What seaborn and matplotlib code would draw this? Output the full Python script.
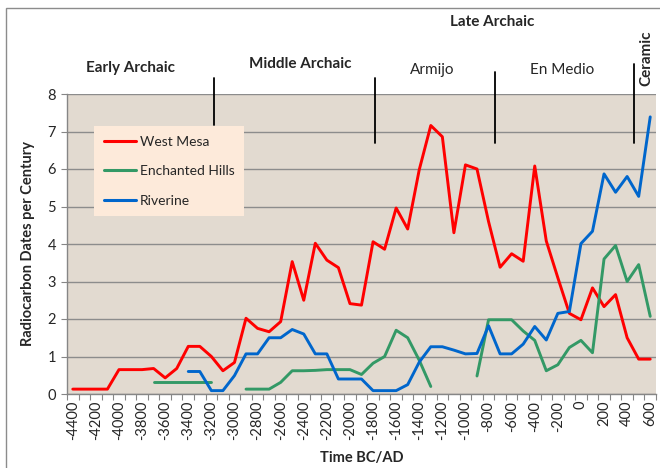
import numpy as np
import pandas as pd
import matplotlib
matplotlib.use('Agg')
import matplotlib.pyplot as plt
from matplotlib.patches import Rectangle
import seaborn as sns

# centuries on the category axis (BC negative)
years = list(range(-4400, 700, 100))

# radiocarbon dates per century (None = no line)
west_mesa = [0.13, 0.13, 0.13, 0.13, 0.65, 0.65, 0.65, 0.68, 0.43, 0.68,
             1.27, 1.27, 1.0, 0.62, 0.84, 2.02, 1.75, 1.66, 1.93, 3.53,
             2.5, 4.02, 3.57, 3.37, 2.41, 2.37, 4.06, 3.86, 4.96, 4.4,
             5.98, 7.16, 6.86, 4.3, 6.11, 6.0, 4.6, 3.38, 3.74, 3.54,
             6.08, 4.08, 3.1, 2.15, 1.98, 2.83, 2.33, 2.65, 1.5, 0.93, 0.93]
enchanted_hills = [None, None, None, None, None, None, None, 0.33, 0.33, 0.33,
                   0.33, 0.33, 0.33, None, None, 0.13, 0.13, 0.13, 0.31, 0.62,
                   0.62, 0.63, 0.65, 0.65, 0.65, 0.52, 0.82, 1.0, 1.7, 1.5,
                   0.9, 0.2, None, None, None, 0.48, 1.98, 1.98, 1.98, 1.68,
                   1.43, 0.62, 0.78, 1.24, 1.43, 1.1, 3.6, 3.96, 3.0, 3.45, 2.07]
riverine = [None, None, None, None, None, None, None, None, None, None,
            0.6, 0.6, 0.09, 0.09, 0.49, 1.07, 1.07, 1.5, 1.5, 1.72,
            1.6, 1.07, 1.07, 0.4, 0.4, 0.4, 0.09, 0.09, 0.09, 0.25,
            0.85, 1.26, 1.26, 1.17, 1.07, 1.08, 1.82, 1.07, 1.07, 1.33,
            1.8, 1.44, 2.15, 2.2, 4.01, 4.34, 5.87, 5.38, 5.8, 5.27, 7.39]

series_names = ['West Mesa', 'Enchanted Hills', 'Riverine']
series_colors = ['#FF0000', '#339966', '#0066CC']

# period boundaries (years) and where the divider lines start/stop (axes fraction)
period_bounds = [-3180, -1780, -740, 460]
period_tops = [1.053, 1.053, 1.073, 1.10]
period_bottoms = [0.897, 0.837, 0.837, 0.837]

# build long table, one "seg" per unbroken run so gaps stay gaps
frames = []
for name, vals in zip(series_names, [west_mesa, enchanted_hills, riverine]):
    s = pd.Series(vals, dtype=float)
    seg = s.isna().cumsum()
    d = pd.DataFrame({'pos': np.arange(len(years)), 'value': s,
                      'series': name, 'seg': name + seg.astype(str)})
    frames.append(d.dropna())
df = pd.concat(frames, ignore_index=True)

sns.set_style('white')
plt.rcParams['font.family'] = ['Lato', 'DejaVu Sans']

fig = plt.figure(figsize=(6.6, 4.68), dpi=100)
ax = fig.add_axes([67 / 660, 1 - 394 / 468, 589 / 660, 300 / 468])
ax.set_facecolor('#E2DAD0')

sns.lineplot(data=df, x='pos', y='value', hue='series', units='seg',
             estimator=None, palette=dict(zip(series_names, series_colors)),
             hue_order=series_names, linewidth=2.1, ax=ax, legend=True)

# axes
ax.set_xlim(-0.5, len(years) - 0.5)
ax.set_ylim(0, 8)
ax.set_yticks(range(0, 9))
ax.yaxis.grid(True, color='#8C8C8C', linewidth=1)
ax.xaxis.grid(False)
ax.set_axisbelow(True)
ax.set_xticks(np.arange(0, len(years), 2))
ax.set_xticklabels([str(y) for y in years[::2]], rotation=90, fontsize=10.5)
ax.set_xticks(np.arange(len(years) + 1) - 0.5, minor=True)
ax.tick_params(axis='x', which='major', length=0, pad=5)
ax.tick_params(axis='x', which='minor', length=4, color='#868686', width=0.8, bottom=True)
ax.tick_params(axis='y', length=4, color='#868686', width=0.8, left=True, labelsize=10.5, pad=4)
for sp in ['top', 'right']:
    ax.spines[sp].set_visible(False)
for sp in ['left', 'bottom']:
    ax.spines[sp].set_color('#868686')
    ax.spines[sp].set_linewidth(1)

ax.set_xlabel('Time BC/AD', fontsize=10.5, fontweight='bold', labelpad=8)
ax.set_ylabel('Radiocarbon Dates per Century', fontsize=10.5, fontweight='bold', labelpad=9)

# legend
handles, labels = ax.get_legend_handles_labels()
for h in handles:
    h.set_linewidth(2.2)
ax.legend(handles, labels, loc='upper left', bbox_to_anchor=(0.046, 0.893),
          borderaxespad=0, frameon=True, facecolor='#FDEADA', edgecolor='none',
          framealpha=1, fancybox=False, fontsize=10, handlelength=2.3,
          handletextpad=0.3, labelspacing=1.25, borderpad=0.7)

# period dividers
trans = ax.get_xaxis_transform()
for yr, top, bot in zip(period_bounds, period_tops, period_bottoms):
    xpos = (yr - years[0]) / 100
    ax.plot([xpos, xpos], [bot, top], transform=trans, color='black',
            linewidth=1.3, clip_on=False)

def fig_text(x, y, s, **kw):
    fig.text(x / 660, 1 - y / 468, s, ha='center', va='center', **kw)

fig_text(131, 68, 'Early Archaic', fontsize=11, fontweight='bold')
fig_text(300, 64, 'Middle Archaic', fontsize=11, fontweight='bold')
fig_text(432, 70, 'Armijo', fontsize=11)
fig_text(562, 70, 'En Medio', fontsize=11)
fig_text(492, 22, 'Late Archaic', fontsize=11, fontweight='bold')
fig_text(646, 58, 'Ceramic', fontsize=11, fontweight='bold', rotation=90)

# chart border like the spreadsheet export
fig.add_artist(Rectangle((6 / 660, -0.1), 1.2, 1.1 - 8 / 468, transform=fig.transFigure,
                         fill=False, edgecolor='#8C8C8C', linewidth=1, clip_on=False))

fig.savefig('out.png', dpi=100)
